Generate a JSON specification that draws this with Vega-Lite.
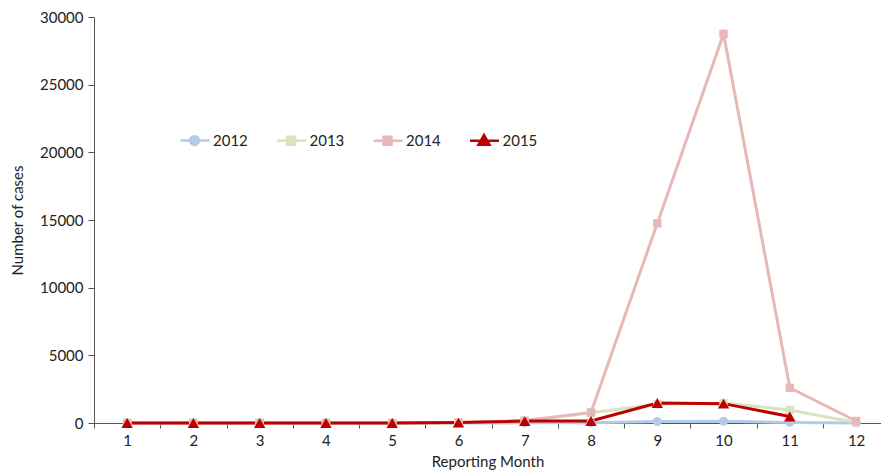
{
  "$schema": "https://vega.github.io/schema/vega-lite/v6.json",
  "width": 787,
  "height": 406,
  "autosize": {"type": "none"},
  "padding": {"left": 94, "top": 17, "right": 0, "bottom": 53},
  "background": "white",
  "config": {
    "view": {"stroke": null},
    "font": "Lato",
    "axis": {"labelFont": "Lato", "titleFont": "Lato", "labelFontSize": 15, "titleFontSize": 15, "labelColor": "#222", "titleColor": "#222", "titleFontWeight": "normal", "domainColor": "#555", "tickColor": "#555", "grid": false},
    "legend": {"labelFont": "Lato", "labelFontSize": 15, "labelColor": "#222"}
  },
  "data": {"values": [
    {"month": 1, "year": "2012", "cases": 0}, {"month": 2, "year": "2012", "cases": 0}, {"month": 3, "year": "2012", "cases": 0}, {"month": 4, "year": "2012", "cases": 0}, {"month": 5, "year": "2012", "cases": 0}, {"month": 6, "year": "2012", "cases": 5}, {"month": 7, "year": "2012", "cases": 10}, {"month": 8, "year": "2012", "cases": 20}, {"month": 9, "year": "2012", "cases": 110}, {"month": 10, "year": "2012", "cases": 130}, {"month": 11, "year": "2012", "cases": 40}, {"month": 12, "year": "2012", "cases": 5},
    {"month": 1, "year": "2013", "cases": 0}, {"month": 2, "year": "2013", "cases": 0}, {"month": 3, "year": "2013", "cases": 0}, {"month": 4, "year": "2013", "cases": 0}, {"month": 5, "year": "2013", "cases": 0}, {"month": 6, "year": "2013", "cases": 20}, {"month": 7, "year": "2013", "cases": 120}, {"month": 8, "year": "2013", "cases": 750}, {"month": 9, "year": "2013", "cases": 1380}, {"month": 10, "year": "2013", "cases": 1480}, {"month": 11, "year": "2013", "cases": 960}, {"month": 12, "year": "2013", "cases": 40},
    {"month": 1, "year": "2014", "cases": 0}, {"month": 2, "year": "2014", "cases": 0}, {"month": 3, "year": "2014", "cases": 0}, {"month": 4, "year": "2014", "cases": 0}, {"month": 5, "year": "2014", "cases": 0}, {"month": 6, "year": "2014", "cases": 30}, {"month": 7, "year": "2014", "cases": 180}, {"month": 8, "year": "2014", "cases": 780}, {"month": 9, "year": "2014", "cases": 14750}, {"month": 10, "year": "2014", "cases": 28750}, {"month": 11, "year": "2014", "cases": 2600}, {"month": 12, "year": "2014", "cases": 150},
    {"month": 1, "year": "2015", "cases": 0}, {"month": 2, "year": "2015", "cases": 0}, {"month": 3, "year": "2015", "cases": 0}, {"month": 4, "year": "2015", "cases": 0}, {"month": 5, "year": "2015", "cases": 0}, {"month": 6, "year": "2015", "cases": 30}, {"month": 7, "year": "2015", "cases": 140}, {"month": 8, "year": "2015", "cases": 150}, {"month": 9, "year": "2015", "cases": 1480}, {"month": 10, "year": "2015", "cases": 1430}, {"month": 11, "year": "2015", "cases": 480}
  ]},
  "encoding": {
    "x": {"field": "month", "type": "quantitative", "scale": {"domain": [0.5, 12.376], "nice": false, "zero": false},
      "axis": {"title": "Reporting Month", "values": [1,2,3,4,5,6,7,8,9,10,11,12], "tickOffset": -33.1, "labelOffset": 33.1, "tickSize": 5, "labelPadding": 5, "titlePadding": 6, "labelFlush": false}},
    "y": {"field": "cases", "type": "quantitative", "scale": {"domain": [0, 30000], "nice": false},
      "axis": {"title": "Number of cases", "format": "d", "values": [0,5000,10000,15000,20000,25000,30000], "tickSize": 6, "labelPadding": 5, "titlePadding": 14}},
    "color": {"field": "year", "type": "nominal",
      "scale": {"domain": ["2012","2013","2014","2015"], "range": ["#B4CBE6", "#D7E4BD", "#E6B9B8", "#C00000"]},
      "legend": {"title": null, "orient": "none", "legendX": 83, "legendY": 116, "direction": "horizontal", "columns": 4, "padding": 0, "columnPadding": 23.5, "symbolSize": 64, "labelOffset": 21,
        "encode": {"symbols": {"update": {
          "shape": {"signal": "datum.value=='2012' ? 'M-1,0H6.25M1.4,0A1.1,1.1 0 1,0 3.6,0A1.1,1.1 0 1,0 1.4,0Z' : datum.value=='2015' ? 'M-1,0H6.25M2.5,-1.4L3.9,1.05H1.1Z' : 'M-1,0H6.25M1.5,-1H3.5V1H1.5Z'"},
          "fill": {"scale": "color", "field": "value"},
          "stroke": {"scale": "color", "field": "value"},
          "strokeWidth": {"value": 2.5},
          "opacity": {"value": 1}, "fillOpacity": {"value": 1}, "strokeOpacity": {"value": 1}
        }}}}
    }
  },
  "layer": [
    {"mark": {"type": "line", "strokeWidth": 3}},
    {"transform": [{"filter": "datum.year == '2012'"}], "mark": {"type": "point", "shape": "circle", "filled": true, "opacity": 1, "size": 80}},
    {"transform": [{"filter": "datum.year == '2013' || datum.year == '2014'"}], "mark": {"type": "point", "shape": "square", "filled": true, "opacity": 1, "size": 70}},
    {"transform": [{"filter": "datum.year == '2015'"}], "mark": {"type": "point", "shape": "triangle-up", "filled": true, "opacity": 1, "size": 130}}
  ]
}
